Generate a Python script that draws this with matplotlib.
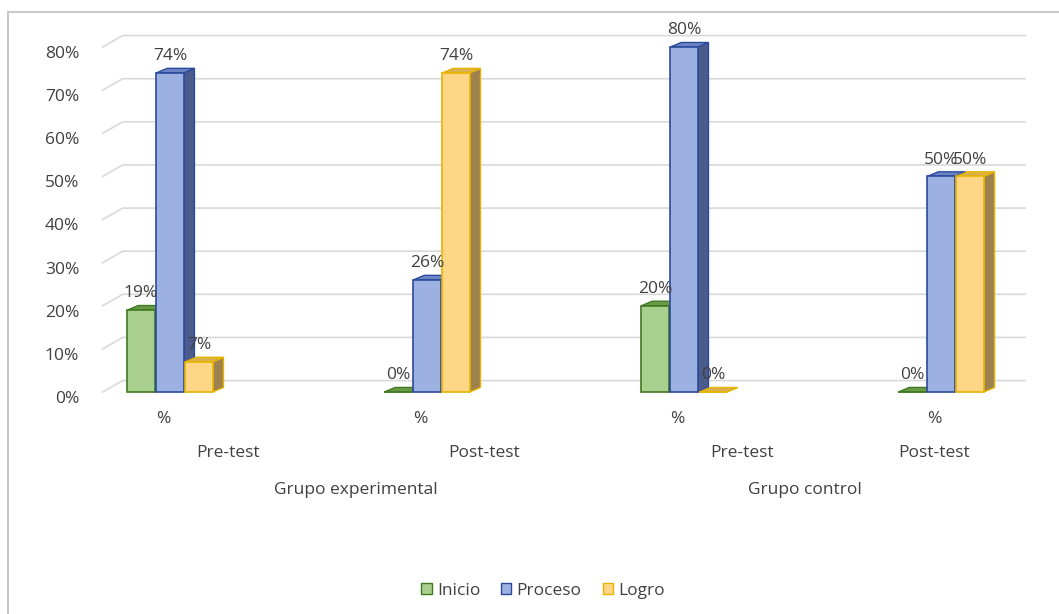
import matplotlib.pyplot as plt
import matplotlib.transforms as mtransforms
from matplotlib.patches import Polygon, Patch
from matplotlib.lines import Line2D

plt.rcParams['font.family'] = ['Open Sans', 'DejaVu Sans']

series = ['Inicio', 'Proceso', 'Logro']
values = [
    [0.19, 0.00, 0.20, 0.00],   # Inicio
    [0.74, 0.26, 0.80, 0.50],   # Proceso
    [0.07, 0.74, 0.00, 0.50],   # Logro
]
cat_labels = ['%', '%', '%', '%']
test_labels = ['Pre-test', 'Post-test', 'Pre-test', 'Post-test']
group_labels = ['Grupo experimental', 'Grupo control']
yticks = [0, 0.1, 0.2, 0.3, 0.4, 0.5, 0.6, 0.7, 0.8]

front = ['#a9d08e', '#9cb1e2', '#ffd685']
side = ['#55803a', '#4a5b8c', '#9d8250']
top = ['#6a9a48', '#6c84c4', '#d8b04c']
edge = ['#3f7a22', '#2a4a9c', '#e6b400']
txt = '#404040'
fs = 12.5

W, H = 1059, 614
fig = plt.figure(figsize=(W / 100, H / 100), dpi=100)
ax = fig.add_axes([100 / W, (614 - 392) / H, 930 / W, 345 / H])
ax.set_xlim(-0.2724, 3.346)
ax.set_ylim(0, 0.8)
for s in ax.spines.values():
    s.set_visible(False)
ax.set_xticks([])
ax.set_yticks(yticks)
ax.set_yticklabels([f'{int(round(t * 100))}%' for t in yticks])
ax.tick_params(axis='y', length=0, pad=15, labelsize=fs, labelcolor=txt)
shift = mtransforms.ScaledTranslation(0, -0.05, fig.dpi_scale_trans)
for lab in ax.get_yticklabels():
    lab.set_transform(lab.get_transform() + shift)

# back wall gridlines with left wall diagonals
wx0, wdx, wdy, wx1 = -0.262, 0.078, 0.0265, 3.327
for t in yticks:
    ax.plot([wx0, wx0 + wdx, wx1], [t, t + wdy, t + wdy], color='#d9d9d9',
            lw=1.2, clip_on=False, zorder=1)

# clustered 3-D style columns
bw, step, ddx, ddy = 0.106, 0.113, 0.042, 0.0105
for j in range(3):
    for i, h in enumerate(values[j]):
        xc = i + (j - 1) * step
        xl, xr = xc - bw / 2, xc + bw / 2
        z = 3 + j
        ax.bar(xc, h, bw, color=front[j], edgecolor=edge[j], lw=1.2, zorder=z + 0.2,
               clip_on=False)
        ax.add_patch(Polygon([(xr, 0), (xr + ddx, ddy), (xr + ddx, h + ddy), (xr, h)],
                             closed=True, fc=side[j], ec=edge[j], lw=1, zorder=z,
                             clip_on=False))
        ax.add_patch(Polygon([(xl, h), (xr, h), (xr + ddx, h + ddy), (xl + ddx, h + ddy)],
                             closed=True, fc=top[j], ec=edge[j], lw=1, zorder=z + 0.1,
                             clip_on=False))
        ax.annotate(f'{int(round(h * 100))}%', (xc, h), xytext=(0, 12),
                    textcoords='offset points', ha='center', va='center',
                    fontsize=fs, color=txt, zorder=10)

# multi-level category labels
for i, lab in enumerate(cat_labels):
    ax.text(i - 0.027, -0.0626, lab, ha='center', va='center', fontsize=fs, color=txt)
for x, lab in zip([0.226, 1.222, 2.226, 2.973], test_labels):
    ax.text(x, -0.1415, lab, ha='center', va='center', fontsize=fs, color=txt)
for x, lab in zip([0.724, 2.471], group_labels):
    ax.text(x, -0.227, lab, ha='center', va='center', fontsize=fs, color=txt)

handles = [Patch(facecolor=front[j], edgecolor=edge[j], label=series[j]) for j in range(3)]
fig.legend(handles=handles, loc='center', bbox_to_anchor=(543 / W, (614 - 591) / H),
           ncol=3, frameon=False, fontsize=fs, handlelength=0.6, handleheight=0.6,
           handletextpad=0.3, columnspacing=1.2, labelcolor=txt)

# chart area border
fig.add_artist(Line2D([8 / W, 8 / W], [0, 1 - 12 / H], color='#c8c8c8', lw=1.5))
fig.add_artist(Line2D([8 / W, 1], [1 - 12 / H, 1 - 12 / H], color='#c8c8c8', lw=1.5))

fig.savefig('out.png', dpi=100)
